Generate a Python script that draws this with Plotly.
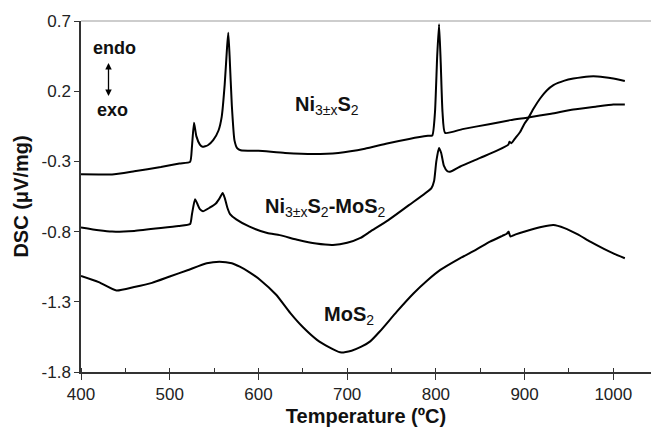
import plotly.graph_objects as go

# ---- data ----
ni_x = [400, 420, 435, 460, 490, 511, 523, 525, 527.4, 530, 534, 537, 543, 549, 555, 558.6, 562, 564.5, 566,
        567.5, 570, 573, 576, 580, 600, 630, 662, 690, 720, 745, 770, 791, 796, 799, 801.5, 803.6, 805.5,
        807.5, 810.4, 830, 860, 884, 904, 930, 955, 980, 1000, 1013]
ni_y = [-0.392, -0.393, -0.393, -0.37, -0.34, -0.315, -0.303, -0.2, -0.025, -0.12, -0.18, -0.196, -0.185,
        -0.149, -0.08, 0.017, 0.25, 0.5, 0.617, 0.45, 0.1, -0.15, -0.205, -0.22, -0.225, -0.24, -0.248,
        -0.24, -0.21, -0.172, -0.14, -0.118, -0.115, 0.05, 0.45, 0.677, 0.4, 0.05, -0.097, -0.07, -0.035,
        -0.006, 0.013, 0.04, 0.07, 0.09, 0.105, 0.106]

nimo_x = [400, 420, 435, 460, 490, 510, 523, 525, 528.5, 531, 534, 537.5, 545, 552, 556, 559.7, 562, 565,
          568, 575, 590, 610, 624, 645, 665, 684, 700, 715, 726, 746, 770, 795, 798, 800.5, 803.5, 806,
          809, 813, 816, 827, 850, 870, 881.7, 883, 885, 890, 895, 900, 904, 910, 917.5, 925, 932.5, 945,
          955, 965, 977.5, 990, 1000, 1013]
nimo_y = [-0.77, -0.79, -0.80, -0.795, -0.775, -0.76, -0.746, -0.68, -0.57, -0.6, -0.64, -0.655, -0.63,
          -0.60, -0.565, -0.525, -0.56, -0.63, -0.675, -0.713, -0.765, -0.81, -0.825, -0.86, -0.885, -0.895,
          -0.88, -0.845, -0.80, -0.72, -0.61, -0.49, -0.44, -0.3, -0.205, -0.24, -0.33, -0.37, -0.374, -0.338,
          -0.275, -0.22, -0.18, -0.16, -0.17, -0.13, -0.09, -0.03, 0.006, 0.075, 0.148, 0.205, 0.243, 0.275,
          0.29, 0.3, 0.307, 0.3, 0.29, 0.273]

mo_x = [400, 420, 440, 460, 480, 500, 520, 541.7, 556, 570, 579, 590, 602, 620, 636, 650, 666, 680, 692,
        705, 716, 726, 737, 756, 775, 790, 805, 827, 845, 861, 875, 880, 882, 884, 890, 905, 920, 932.5,
        945, 960, 974, 990, 1000, 1013]
mo_y = [-1.116, -1.16, -1.22, -1.195, -1.165, -1.12, -1.075, -1.025, -1.014, -1.025, -1.05, -1.09, -1.144,
        -1.25, -1.381, -1.48, -1.571, -1.625, -1.66, -1.648, -1.62, -1.582, -1.51, -1.37, -1.239, -1.15,
        -1.073, -0.99, -0.93, -0.872, -0.83, -0.815, -0.8, -0.835, -0.82, -0.79, -0.765, -0.753, -0.775,
        -0.82, -0.872, -0.925, -0.955, -0.99]

x_ticks = [400, 500, 600, 700, 800, 900, 1000]
y_ticks = [0.7, 0.2, -0.3, -0.8, -1.3, -1.8]

FONT = "Liberation Sans, Arial, sans-serif"

fig = go.Figure()
for xs, ys in [(ni_x, ni_y), (nimo_x, nimo_y), (mo_x, mo_y)]:
    fig.add_trace(go.Scatter(x=xs, y=ys, mode="lines",
                             line=dict(color="black", width=2, shape="spline", smoothing=0.5),
                             showlegend=False, hoverinfo="skip"))

lab_font = dict(family=FONT, size=20, color="#111")
small_font = dict(family=FONT, size=18, color="#111")
anns = [
    dict(x=677, y=0.095, text="<b>Ni</b><sub>3±x</sub><b>S</b><sub>2</sub>", font=lab_font),
    dict(x=676, y=-0.625, text="<b>Ni</b><sub>3±x</sub><b>S</b><sub>2</sub><b>-MoS</b><sub>2</sub>", font=lab_font),
    dict(x=702, y=-1.40, text="<b>MoS</b><sub>2</sub>", font=lab_font),
    dict(x=438, y=0.509, text="<b>endo</b>", font=small_font),
    dict(x=436, y=0.064, text="<b>exo</b>", font=small_font),
]
for a in anns:
    fig.add_annotation(xref="x", yref="y", showarrow=False, **a)

fig.add_annotation(xref="x", yref="y", axref="x", ayref="y", x=431, y=0.40, ax=431, ay=0.155,
                   text="", showarrow=True, arrowhead=2, arrowside="end+start",
                   arrowsize=1, arrowwidth=1.3, arrowcolor="black")

fig.add_shape(type="line", xref="paper", yref="paper", x0=0, x1=1, y0=1, y1=1,
              line=dict(color="#bdbdbd", width=1.5))

fig.update_layout(
    width=651, height=430,
    margin=dict(l=81, r=0, t=21, b=58),
    plot_bgcolor="white", paper_bgcolor="white",
    font=dict(family=FONT, color="#222"),
)
fig.update_xaxes(range=[400, 1042.5], tickvals=x_ticks, ticks="outside", ticklen=6, tickwidth=1,
                 tickcolor="#333", showline=True, linecolor="#333", linewidth=1.5, showgrid=False,
                 zeroline=False, tickfont=dict(size=17, color="#222"),
                 minor=dict(dtick=50, tick0=400, ticks="inside", ticklen=4, tickcolor="#333", showgrid=False),
                 title=dict(text="<b>Temperature (ºC)</b>", font=dict(size=20, color="#111"), standoff=6))
fig.update_yaxes(range=[-1.8, 0.7], tickvals=y_ticks, ticktext=[str(v) for v in y_ticks],
                 ticks="outside", ticklen=5, tickwidth=1, tickcolor="#333",
                 showline=True, linecolor="#333", linewidth=1.5, showgrid=False, zeroline=False,
                 tickfont=dict(size=17, color="#222"),
                 title=dict(text="<b>DSC (μV/mg)</b>", font=dict(size=20, color="#111"), standoff=8))

fig.write_html("out.html")
